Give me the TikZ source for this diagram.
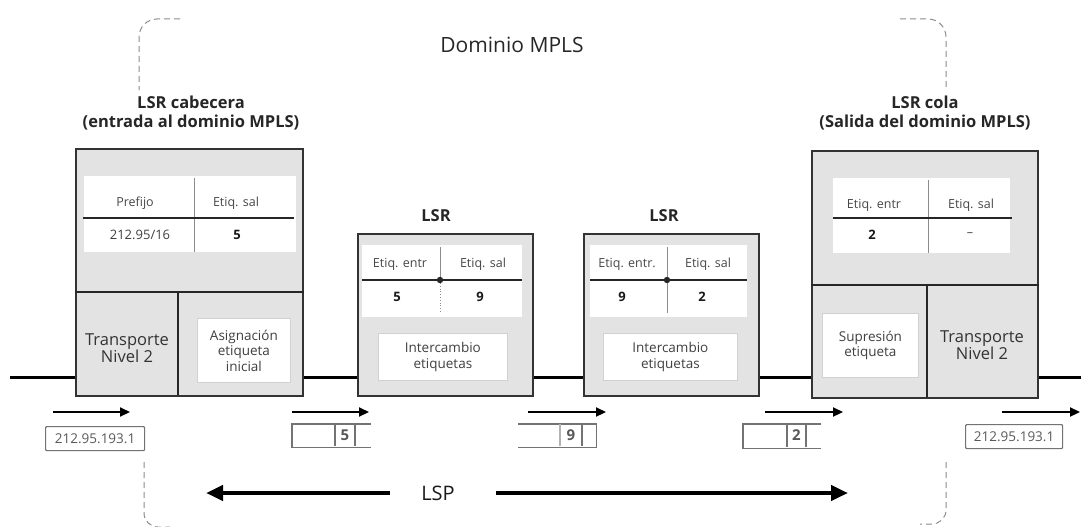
\documentclass[tikz,border=0pt]{standalone}
\usepackage{fontspec}
\setmainfont{Open Sans}
\usetikzlibrary{arrows.meta}

\begin{document}
\begin{tikzpicture}[x=1pt,y=-1pt,
  router/.style={draw=black!80, line width=1.8pt, fill=black!11, anchor=north west, inner sep=0pt},
  tablebg/.style={fill=white, draw=none, anchor=north west, inner sep=0pt},
  actbox/.style={draw=black!18, line width=0.8pt, fill=white, anchor=north west, inner sep=0pt},
  wire/.style={line width=3pt, black},
  rulebar/.style={line width=2.4pt, black!85},
  sepline/.style={line width=0.8pt, black!45},
  hdr/.style={font=\fontsize{12.5}{14}\selectfont, text=black!72},
  val/.style={font=\bfseries\fontsize{13}{15}\selectfont, text=black!90},
  actxt/.style={font=\fontsize{13.5}{15.5}\selectfont, text=black!75, align=center},
  l2txt/.style={font=\fontsize{16.5}{17.5}\selectfont, text=black!80, align=center},
  title/.style={font=\bfseries\fontsize{16.5}{18.5}\selectfont, text=black!85, align=center},
  flow/.style={-{Triangle[length=10pt,width=9pt]}, line width=2.2pt, black},
  lsparrow/.style={-{Triangle[length=17pt,width=15pt]}, line width=4.5pt, black},
  frame/.style={draw=black!45, line width=1pt, dash pattern=on 6pt off 4pt},
  lblbox/.style={draw=black!55, line width=1.2pt, rounded corners=1pt, anchor=north west, inner sep=0pt},
  lbltxt/.style={font=\fontsize{13.5}{15}\selectfont, text=black!65},
  lblnum/.style={font=\bfseries\fontsize{15}{17}\selectfont, text=black!65}]

\useasboundingbox (0,0) rectangle (1081,527);

% ---- MPLS domain outline: corners and side pieces ----
\draw[frame, rounded corners=18pt] (180,19) -- (139,19) -- (139,90);
\draw[frame, rounded corners=18pt] (900,19) -- (946,19) -- (946,90);
\draw[frame, rounded corners=14pt] (144,462) -- (144,527) -- (170,527);
\draw[frame, rounded corners=14pt] (946,462) -- (946,524) -- (920,524);
\node[font=\fontsize{21}{24}\selectfont, text=black!85] (dom) at (512,45) {Dominio MPLS};

% ---- titles ----
\node[title] (tcab) at (191,113) {LSR cabecera\\(entrada al dominio MPLS)};
\node[title] (tcola) at (925,113) {LSR cola\\(Salida del dominio MPLS)};
\node[title] (tl1) at (436,216) {LSR};
\node[title] (tl2) at (664,216) {LSR};

% ---- routers ----
\node[router, minimum width=227pt, minimum height=247pt] (cab) at (75,148) {};
\node[router, minimum width=175pt, minimum height=162pt] (lsr1) at (357,233) {};
\node[router, minimum width=175pt, minimum height=162pt] (lsr2) at (583,233) {};
\node[router, minimum width=226pt, minimum height=247pt] (cola) at (811,150) {};

% ---- main link ----
\coordinate (l0) at (10,377);
\coordinate (l1) at (1081,377);
\draw[wire] (l0) -- (l0 -| cab.west);
\draw[wire] (l0 -| cab.east) -- (l0 -| lsr1.west);
\draw[wire] (l0 -| lsr1.east) -- (l0 -| lsr2.west);
\draw[wire] (l0 -| lsr2.east) -- (l0 -| cola.west);
\draw[wire] (l0 -| cola.east) -- (l1);

% ---- head LSR: table and functions ----
\node[tablebg, minimum width=212pt, minimum height=76pt] (tabc) at (84,176) {};
\draw[sepline] (194,178) -- (194,252);
\draw[rulebar] (83,218) -- (294,218);
\node[hdr] (hc1) at (135,203) {Prefijo};
\node[hdr] (hc2) at (236,203) {Etiq. sal};
\node[font=\fontsize{13}{15}\selectfont, text=black!75] (vc1) at (140,235) {212.95/16};
\node[val] (vc2) at (237,235) {5};
\draw[rulebar] (cab.west |- 0,292) -- (cab.east |- 0,292);
\draw[rulebar] (178,292) -- (178,395);
\node[l2txt] (trc) at (127,348) {Transporte\\Nivel 2};
\node[actbox, minimum width=93pt, minimum height=64pt] (asig) at (197,318) {};
\node[actxt] at (asig.center) {Asignación\\etiqueta\\inicial};

% ---- first transit LSR ----
\node[tablebg, minimum width=160pt, minimum height=72pt] (tab1) at (362,245) {};
\draw[sepline] (440,247) -- (440,278);
\draw[sepline, dotted, line width=1pt] (440,283) -- (440,313);
\draw[rulebar] (362,280) -- (522,280);
\fill[black!85] (440,280) circle (3.2pt);
\node[hdr] (h11) at (400,264) {Etiq. entr};
\node[hdr] (h12) at (483,264) {Etiq. sal};
\node[val] (v11) at (397,297) {5};
\node[val] (v12) at (480,297) {9};
\node[actbox, minimum width=129pt, minimum height=47pt] (swap1) at (378,333) {};
\node[actxt] at (swap1.center) {Intercambio\\etiquetas};

% ---- second transit LSR ----
\node[tablebg, minimum width=157pt, minimum height=72pt] (tab2) at (590,245) {};
\draw[sepline] (667,247) -- (667,313);
\draw[rulebar] (590,280) -- (747,280);
\fill[black!85] (667,280) circle (3.2pt);
\node[hdr] (h21) at (627,264) {Etiq. entr.};
\node[hdr] (h22) at (708,264) {Etiq. sal};
\node[val] (v21) at (622,297) {9};
\node[val] (v22) at (702,297) {2};
\node[actbox, minimum width=134pt, minimum height=47pt] (swap2) at (603,333) {};
\node[actxt] at (swap2.center) {Intercambio\\etiquetas};

% ---- tail LSR ----
\node[tablebg, minimum width=177pt, minimum height=75pt] (tabt) at (833,178) {};
\draw[sepline] (928,180) -- (928,253);
\draw[rulebar] (833,218) -- (1012,218);
\node[hdr] (ht1) at (874,205) {Etiq. entr};
\node[hdr] (ht2) at (971,205) {Etiq. sal};
\node[val] (vt1) at (872,235) {2};
\node[hdr] (vt2) at (970,235) {--};
\draw[rulebar] (cola.west |- 0,285) -- (cola.east |- 0,285);
\draw[rulebar] (927,285) -- (927,397);
\node[actbox, minimum width=96pt, minimum height=64pt] (sup) at (822,313) {};
\node[actxt] at (sup.center) {Supresión\\etiqueta};
\node[l2txt] (trt) at (982,345) {Transporte\\Nivel 2};

% ---- packet direction arrows ----
\coordinate (a1s) at (53,412);   \coordinate (a1e) at (130,412);
\coordinate (a2s) at (292,412);  \coordinate (a2e) at (369,412);
\coordinate (a3s) at (528,412);  \coordinate (a3e) at (606,412);
\coordinate (a4s) at (765,412);  \coordinate (a4e) at (843,412);
\coordinate (a5s) at (1002,412); \coordinate (a5e) at (1080,412);
\draw[flow] (a1s) -- (a1e);
\draw[flow] (a2s) -- (a2e);
\draw[flow] (a3s) -- (a3e);
\draw[flow] (a4s) -- (a4e);
\draw[flow] (a5s) -- (a5e);

% ---- packets on each hop ----
\node[lblbox, minimum width=99pt, minimum height=24pt] (p1) at (45,426) {};
\node[lbltxt] at (p1.center) {212.95.193.1};

\node[lblbox, minimum width=78pt, minimum height=22pt, draw=none] (p2) at (292,424) {};
\draw[black!55, line width=1.2pt] (p2.north east) -- (p2.north west) -- (p2.south west) -- (p2.south east);
\draw[black!55, line width=1.2pt] (335,424) -- (335,446) (355,424) -- (355,446);
\node[lblnum] at (345,435) {5};

\node[lblbox, minimum width=77pt, minimum height=22pt, draw=none] (p3) at (518,424) {};
\draw[black!55, line width=1.2pt] (p3.north west) -- (p3.north east) -- (p3.south east) -- (p3.south west);
\draw[black!30, line width=1.2pt] (560,424) -- (560,446);
\draw[black!55, line width=1.2pt] (582,424) -- (582,446);
\node[lblnum] at (571,435) {9};

\node[lblbox, minimum width=77pt, minimum height=23pt, draw=none] (p4) at (743,424) {};
\draw[black!55, line width=1.2pt] (p4.north east) -- (p4.north west) -- (p4.south west) -- (p4.south east);
\draw[black!55, line width=1.2pt] (787,424) -- (787,447) (806,424) -- (806,447);
\node[lblnum] at (796.5,435.5) {2};

\node[lblbox, minimum width=97pt, minimum height=24pt] (p5) at (965,424) {};
\node[lbltxt] at (p5.center) {212.95.193.1};

% ---- label switched path ----
\node[font=\fontsize{20}{24}\selectfont, text=black!90] (lsp) at (438,493) {LSP};
\coordinate (lspl) at (206,493);
\coordinate (lspr) at (848,493);
\draw[lsparrow] (lsp.west) ++(-28,0) -- (lspl);
\draw[lsparrow] (lsp.east) ++(38,0) -- (lspr);
\end{tikzpicture}
\end{document}
